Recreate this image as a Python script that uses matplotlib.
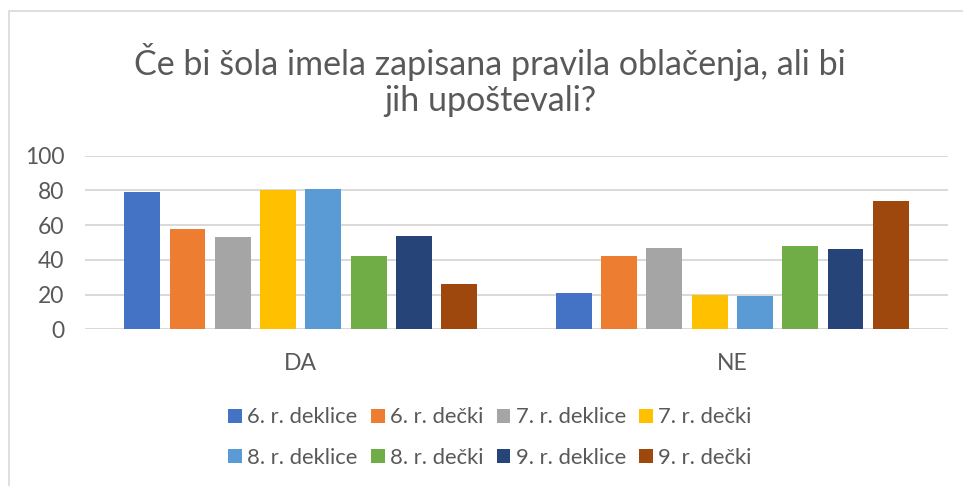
import matplotlib
matplotlib.use("Agg")
import matplotlib.pyplot as plt
from matplotlib.patches import Rectangle, Patch
import numpy as np

plt.rcParams['font.family'] = ['Lato', 'DejaVu Sans']

# data
categories = ["DA", "NE"]
series_names = ["6. r. deklice", "6. r. dečki", "7. r. deklice", "7. r. dečki",
                "8. r. deklice", "8. r. dečki", "9. r. deklice", "9. r. dečki"]
da_values = [79, 58, 53, 80, 81, 42, 54, 26]
ne_values = [21, 42, 47, 20, 19, 48, 46, 74]
colors = ["#4472C4", "#ED7D31", "#A5A5A5", "#FFC000",
          "#5B9BD5", "#70AD47", "#264478", "#9E480E"]
yticks = [0, 20, 40, 60, 80, 100]

text_col = "#595959"
grid_col = "#D9D9D9"

W, H = 963, 486
fig = plt.figure(figsize=(W / 100, H / 100), dpi=100)

# chart frame (only left and top edges are visible in the crop)
fig.add_artist(Rectangle((8.5 / W, -0.1), 1.2, 1.1 - 11 / H,
                         transform=fig.transFigure, fill=False,
                         edgecolor=grid_col, linewidth=1.2))

ax = fig.add_axes([85 / W, 1 - 329.3 / H, (948 - 85) / W, (329.3 - 155.7) / H])

x = np.arange(len(categories))
n = len(series_names)
step = 0.105
width = 0.083
for i, name in enumerate(series_names):
    vals = [da_values[i], ne_values[i]]
    ax.bar(x + (i - (n - 1) / 2) * step, vals, width, color=colors[i],
           label=name, zorder=3)

ax.set_xlim(-0.5, 1.5)
ax.set_ylim(0, 100)
ax.set_yticks(yticks)
ax.set_xticks(x)
ax.set_xticklabels(categories)
ax.yaxis.grid(True, color=grid_col, linewidth=1.4, zorder=0)
ax.set_axisbelow(True)
for s in ax.spines.values():
    s.set_visible(False)
ax.axhline(0, color=grid_col, linewidth=1.4, zorder=1)
ax.tick_params(axis='y', length=0, pad=15, labelsize=16.5, labelcolor=text_col)
ax.tick_params(axis='x', length=0, pad=17, labelsize=16.5, labelcolor=text_col)

fig.text(490 / W, 1 - 80 / H, "Če bi šola imela zapisana pravila oblačenja, ali bi\njih upoštevali?",
         ha='center', va='center', fontsize=24.5, color=text_col, linespacing=1.15)

# matplotlib fills legend columns first; reorder so rows read left to right
order = [0, 4, 1, 5, 2, 6, 3, 7]
handles = [Patch(facecolor=colors[k], edgecolor='none') for k in order]
labels = [series_names[k] for k in order]
fig.legend(handles, labels, loc='center', ncol=4,
           bbox_to_anchor=(490 / W, 1 - 437.5 / H), frameon=False,
           fontsize=15.8, labelcolor=text_col, handlelength=0.62, handleheight=0.62,
           handletextpad=0.25, columnspacing=0.6, labelspacing=0.92)

fig.savefig("out.png", dpi=100)
